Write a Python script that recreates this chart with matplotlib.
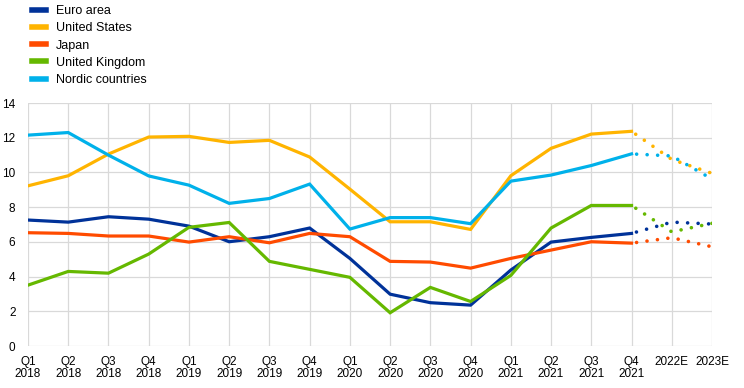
import matplotlib
matplotlib.use("Agg")
import matplotlib.pyplot as plt

plt.rcParams['font.family'] = ['Liberation Sans', 'DejaVu Sans']

tick_labels = ["Q1\n2018", "Q2\n2018", "Q3\n2018", "Q4\n2018",
               "Q1\n2019", "Q2\n2019", "Q3\n2019", "Q4\n2019",
               "Q1\n2020", "Q2\n2020", "Q3\n2020", "Q4\n2020",
               "Q1\n2021", "Q2\n2021", "Q3\n2021", "Q4\n2021",
               "2022E", "2023E"]

euro_area = [7.26, 7.14, 7.45, 7.31, 6.91, 6.01, 6.30, 6.80, 5.05, 2.99, 2.50, 2.36,
             4.38, 5.99, 6.26, 6.49, 7.14, 7.03]
united_states = [9.23, 9.81, 11.06, 12.04, 12.08, 11.73, 11.85, 10.89, 9.04, 7.16, 7.16, 6.72,
                 9.81, 11.39, 12.21, 12.37, 10.75, 9.95]
japan = [6.53, 6.49, 6.34, 6.34, 5.99, 6.30, 5.95, 6.49, 6.30, 4.88, 4.84, 4.49,
         5.05, 5.53, 6.01, 5.93, 6.24, 5.72]
united_kingdom = [3.51, 4.30, 4.20, 5.30, 6.84, 7.12, 4.88, 4.42, 3.96, 1.92, 3.38, 2.57,
                  4.07, 6.80, 8.10, 8.10, 6.58, 7.07]
nordic = [12.15, 12.30, 11.00, 9.80, 9.27, 8.22, 8.50, 9.33, 6.74, 7.40, 7.40, 7.05,
          9.50, 9.85, 10.40, 11.07, 10.95, 9.62]

series = [("Euro area", euro_area, "#003299"),
          ("United States", united_states, "#FFB400"),
          ("Japan", japan, "#FF4B00"),
          ("United Kingdom", united_kingdom, "#65B800"),
          ("Nordic countries", nordic, "#00B1EA")]

n_actual = 16  # Q1 2018 .. Q4 2021

fig = plt.figure(figsize=(7.44, 3.88), dpi=100)
ax = fig.add_axes([0.0376, 0.108, 0.957 - 0.0376, 0.7345 - 0.108])

x = list(range(len(tick_labels)))
handles = []
for name, vals, col in series:
    h, = ax.plot(x[:n_actual], vals[:n_actual], color=col, lw=2.3, solid_joinstyle='miter',
                 label=name, zorder=3)
    ax.plot(x[n_actual - 1:], vals[n_actual - 1:], color=col, lw=2.6,
            linestyle=(1.5, (0.01, 2.9)), dash_capstyle='round', zorder=3)
    handles.append(h)

ax.set_xlim(0, len(tick_labels) - 1)
ax.set_ylim(0, 14)
ax.set_yticks(range(0, 15, 2))
ax.set_xticks(x)
ax.set_xticklabels(tick_labels, linespacing=1.05)
ax.grid(True, color="#d9d9d9", lw=0.9, zorder=0)
ax.set_axisbelow(True)
for s in ax.spines.values():
    s.set_visible(False)
ax.tick_params(axis='both', length=0, labelsize=8.5, colors="#000000")
ax.tick_params(axis='x', pad=7)
ax.tick_params(axis='y', pad=9)
for lbl in ax.get_yticklabels():
    lbl.set_verticalalignment('center_baseline')

leg = fig.legend(handles=handles, loc='upper left', bbox_to_anchor=(0.036, 1.0),
                 frameon=False, fontsize=9, handlelength=1.1, handletextpad=0.85,
                 labelspacing=0.42, borderaxespad=0)
for line in leg.get_lines():
    line.set_linewidth(4)

fig.savefig("out.png", dpi=100)
